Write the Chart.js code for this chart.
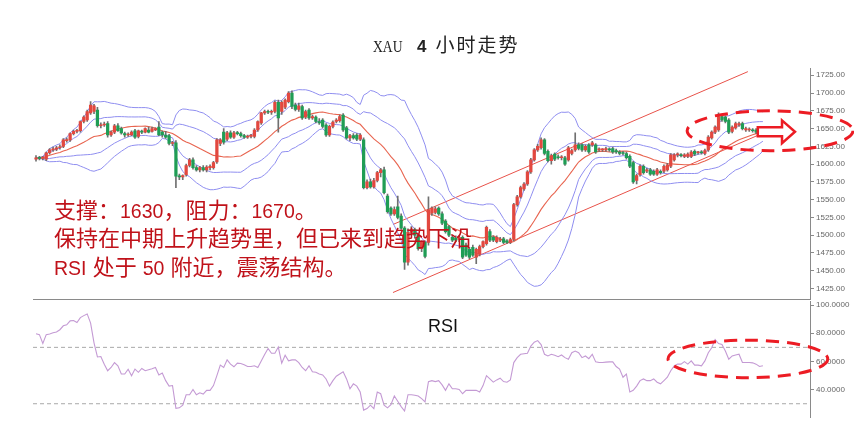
<!DOCTYPE html>
<html>
<head>
<meta charset="utf-8">
<script src="https://cdn.jsdelivr.net/npm/chart.js@4.4.0/dist/chart.umd.min.js"></script>
<style>
  html, body { margin: 0; padding: 0; background: #fff; }
  body { width: 854px; height: 427px; position: relative; overflow: hidden; }
  canvas { position: absolute; left: 0; }
  #priceChart { top: 0; }
  #rsiChart { top: 295px; }
  #title { position: absolute; left: 373px; top: 34px; white-space: nowrap; color: #222; line-height: 20px; }
  #title .lat { display: inline-block; font-family: "Liberation Serif", serif; font-size: 17px;
                transform: scaleX(0.8); transform-origin: left center; width: 30px; }
  #title .num { font-family: "Liberation Sans", sans-serif; font-weight: bold; font-size: 17px; margin-left: 14px; }
  #title .cjk { font-family: "Noto Sans CJK SC", sans-serif; font-size: 19px; margin-left: 9px; letter-spacing: 2px; }
  #note { position: absolute; left: 54px; top: 197px; white-space: nowrap; color: #c0121a;
          font-family: "Liberation Sans", "Noto Sans CJK SC", sans-serif; font-size: 22px; line-height: 28.3px; }
  #note .n { font-size: 19.5px; }
  #rsiLabel { position: absolute; left: 428px; top: 317px; font-family: "Liberation Sans", sans-serif;
              font-size: 18px; line-height: 18px; color: #111; }
</style>
</head>
<body>
<canvas id="priceChart" width="854" height="306"></canvas>
<canvas id="rsiChart" width="854" height="132"></canvas>
<div id="title"><span class="lat">XAU</span><span class="num">4</span><span class="cjk">小时走势</span></div>
<div id="note">
  <div>支撑：<span class="n">1630</span>，阻力：<span class="n">1670</span>。</div>
  <div>保持在中期上升趋势里，但已来到趋势下沿</div>
  <div><span class="n">RSI</span> 处于 <span class="n">50</span> 附近，震荡结构。</div>
</div>
<div id="rsiLabel">RSI</div>
<script>
// XAU 4H candles (index = candle number)
const opens = [
  1607,1609,1608,1607,1616,1620,1621,1623,1625,1633,
  1634,1643,1646,1647,1660,1662,1672,1674,1676,1654,
  1655,1657,1641,1645,1654,1650,1643,1641,1641,1647,
  1639,1646,1645,1648,1646,1648,1652,1645,1641,1640,
  1629,1630,1583,1582,1585,1598,1606,1595,1592,1595,
  1592,1595,1595,1603,1629,1645,1635,1644,1638,1644,
  1643,1640,1638,1639,1639,1648,1658,1672,1674,1673,
  1674,1687,1674,1680,1688,1700,1683,1677,1681,1666,
  1676,1665,1666,1660,1662,1655,1641,1653,1660,1661,
  1669,1651,1637,1640,1641,1635,1634,1567,1575,1568,
  1577,1588,1592,1555,1538,1530,1540,1527,1510,1462,
  1504,1508,1500,1481,1490,1490,1531,1532,1538,1530,
  1520,1512,1497,1496,1494,1497,1486,1480,1483,1469,
  1473,1484,1488,1505,1497,1491,1493,1495,1492,1490,
  1494,1543,1554,1565,1572,1589,1606,1620,1623,1634,
  1618,1605,1614,1610,1609,1609,1606,1615,1620,1627,
  1627,1620,1627,1627,1627,1620,1620,1620,1621,1622,
  1619,1617,1616,1615,1611,1602,1577,1585,1597,1590,
  1592,1590,1586,1590,1590,1592,1597,1606,1613,1613,
  1611,1611,1611,1618,1616,1617,1615,1620,1637,1645,
  1648,1667,1666,1662,1646,1651,1655,1657,1648,1648,
  1648,1648,1646,1646
];
const highs = [
  1612,1611,1611,1617,1622,1624,1625,1627,1636,1637,
  1644,1648,1649,1661,1668,1676,1688,1684,1680,1658,
  1659,1660,1647,1656,1657,1652,1645,1644,1647,1649,
  1648,1648,1651,1652,1652,1651,1660,1647,1646,1642,
  1632,1633,1586,1585,1600,1608,1609,1598,1597,1598,
  1598,1599,1604,1636,1636,1650,1646,1647,1646,1646,
  1645,1642,1641,1642,1650,1661,1673,1676,1676,1676,
  1689,1690,1689,1692,1702,1703,1686,1686,1683,1676,
  1678,1669,1668,1664,1664,1657,1655,1661,1664,1669,
  1671,1653,1642,1643,1643,1643,1637,1578,1579,1580,
  1590,1594,1596,1558,1540,1540,1555,1530,1512,1509,
  1512,1510,1502,1492,1492,1554,1540,1540,1540,1533,
  1522,1514,1500,1499,1499,1499,1489,1483,1486,1482,
  1486,1492,1513,1508,1499,1499,1497,1497,1494,1496,
  1545,1556,1569,1574,1591,1608,1622,1628,1637,1636,
  1620,1614,1616,1613,1612,1611,1625,1621,1644,1630,
  1629,1627,1629,1632,1629,1623,1622,1624,1623,1624,
  1621,1619,1618,1617,1613,1604,1586,1599,1599,1594,
  1594,1592,1594,1592,1599,1601,1615,1615,1616,1615,
  1615,1616,1619,1620,1618,1619,1621,1640,1647,1654,
  1672,1670,1668,1664,1654,1659,1659,1659,1652,1651,
  1650,1650,1649,1649
];
const lows = [
  1604,1606,1606,1605,1614,1618,1619,1621,1623,1631,
  1632,1641,1644,1645,1658,1660,1670,1671,1652,1651,
  1653,1638,1639,1643,1646,1642,1638,1639,1640,1636,
  1637,1643,1644,1644,1645,1647,1640,1638,1636,1627,
  1626,1567,1578,1578,1583,1596,1593,1590,1589,1590,
  1589,1592,1593,1601,1626,1628,1633,1636,1636,1641,
  1638,1636,1636,1637,1637,1646,1656,1670,1671,1670,
  1672,1645,1670,1678,1686,1678,1675,1674,1663,1664,
  1663,1663,1658,1656,1651,1639,1639,1651,1658,1659,
  1646,1635,1633,1635,1633,1633,1565,1565,1566,1566,
  1575,1582,1558,1531,1528,1528,1523,1508,1452,1458,
  1500,1496,1479,1477,1468,1486,1528,1530,1528,1515,
  1503,1498,1491,1491,1491,1467,1470,1467,1470,1460,
  1471,1482,1486,1491,1491,1489,1491,1488,1488,1488,
  1492,1541,1552,1563,1570,1587,1604,1618,1621,1613,
  1603,1600,1605,1607,1606,1598,1604,1613,1618,1620,
  1618,1618,1615,1625,1615,1618,1618,1618,1618,1615,
  1615,1613,1613,1607,1595,1573,1572,1583,1586,1588,
  1584,1584,1584,1586,1588,1590,1595,1604,1610,1610,
  1609,1609,1609,1612,1614,1614,1613,1618,1635,1643,
  1646,1660,1658,1643,1644,1649,1653,1648,1646,1646,
  1645,1643,1644,1644
];
const closes = [
  1609,1608,1610,1616,1620,1621,1623,1624,1634,1634,
  1643,1646,1646,1660,1666,1674,1683,1682,1654,1655,
  1656,1641,1645,1654,1647,1644,1641,1642,1645,1638,
  1647,1645,1650,1645,1650,1650,1641,1641,1638,1629,
  1630,1583,1582,1584,1598,1606,1595,1592,1595,1592,
  1596,1597,1602,1634,1634,1631,1644,1638,1644,1643,
  1640,1638,1639,1641,1648,1660,1672,1674,1673,1674,
  1687,1665,1687,1690,1700,1681,1677,1682,1665,1674,
  1665,1667,1660,1658,1653,1641,1653,1659,1662,1667,
  1648,1637,1640,1637,1635,1641,1567,1575,1568,1577,
  1588,1592,1560,1533,1530,1536,1525,1510,1462,1504,
  1508,1500,1481,1490,1470,1536,1538,1537,1530,1517,
  1505,1500,1493,1493,1497,1469,1472,1469,1472,1480,
  1484,1491,1511,1493,1493,1497,1494,1490,1490,1494,
  1543,1554,1567,1572,1589,1606,1620,1625,1634,1615,
  1605,1612,1607,1609,1610,1600,1623,1619,1627,1622,
  1620,1625,1617,1630,1617,1621,1620,1622,1620,1617,
  1617,1615,1615,1609,1597,1575,1584,1597,1588,1592,
  1586,1586,1592,1588,1597,1599,1613,1613,1613,1612,
  1613,1614,1617,1614,1617,1616,1619,1638,1645,1652,
  1667,1662,1660,1645,1652,1657,1657,1650,1650,1648,
  1647,1645,1646,1647
];
const rsiValues = [
  79.7,79.0,72.7,79.0,79.5,80.3,80.9,82.5,85.3,86.0,
  88.8,89.0,87.6,91.1,92.5,93.7,87.2,73.2,63.2,63.5,
  58.0,53.4,55.7,59.2,56.9,51.1,51.1,54.5,49.9,54.6,
  52.3,55.0,53.4,54.1,54.8,55.7,50.4,51.8,46.4,42.5,
  42.9,26.7,27.1,29.0,36.4,36.4,40.1,36.4,37.8,36.9,
  39.5,39.5,42.9,49.9,57.4,55.7,61.1,58.1,56.2,58.8,
  58.5,57.6,56.4,56.4,56.9,55.7,60.4,65.0,69.2,65.8,
  65.8,70.2,58.8,64.4,60.4,61.1,61.1,59.2,55.7,53.4,
  56.9,52.7,52.3,51.1,50.4,47.6,42.5,46.4,49.5,51.1,
  52.7,47.6,40.6,44.1,42.5,38.3,25.5,26.6,29.0,26.6,
  38.3,37.1,29.0,27.1,29.4,35.5,31.8,28.0,24.8,36.4,
  36.4,36.0,35.5,33.6,31.3,45.7,46.4,45.7,46.4,43.4,
  39.5,44.1,40.6,40.6,40.1,37.1,39.5,39.5,39.5,39.5,
  38.3,42.9,49.9,47.6,45.3,46.9,48.1,45.7,45.3,46.9,
  59.2,62.7,65.1,65.5,65.8,70.9,73.7,74.8,72.0,65.1,
  63.9,65.1,64.4,63.4,64.6,62.7,61.6,66.2,67.4,66.2,
  62.7,63.9,62.0,65.1,59.7,59.2,59.2,59.5,59.7,59.7,
  56.4,54.6,48.8,51.1,38.3,39.5,42.5,46.4,47.6,46.4,
  46.4,47.6,45.3,44.1,46.4,48.8,53.4,56.9,58.1,58.1,
  59.9,58.1,60.4,57.4,57.4,56.9,60.4,66.2,69.7,75.5,
  72.7,72.0,67.4,61.6,63.9,64.6,65.1,59.2,59.2,59.2,
  59.0,58.1,56.4,56.9
];

// axis ticks
const priceTicks = [1425,1450,1475,1500,1525,1550,1575,1600,1625,1650,1675,1700,1725];
const rsiTicks = [40,60,80,100];
const rsiLevels = [30,70];

// channel drawn on the chart: [candle index, price]
const upperTrend = [[104.6,1515.1],[208.6,1730.1]];
const lowerTrend = [[104.6,1419.4],[214.5,1646.6]];

// hand-drawn marks: centre + radius in data units
const priceEllipse = { x: 215.1, y: 1646.9, rx: 24.3, ry: 28 };
const rsiEllipse = { x: 208.6, y: 61.8, rx: 23.4, ry: 13.3 };
const arrowMark = { tail: 211.5, neck: 218.6, tip: 222.4, y: 1645.5, shaft: 6.3, head: 16 };

const bandPeriod = 20;
const X_MIN = -0.88, X_MAX = 226.8;

const UP = "#e2483f", DOWN = "#1f9d55";
const BAND = "#8f8ef0", MID = "#e8644f", TREND = "#e8524a";

// Bollinger-type bands from the closes (mid +-1 and +-2 deviations)
function movingStats(values, period) {
  const mid = [], dev = [];
  values.forEach((_, i) => {
    const win = values.slice(Math.max(0, i - period + 1), i + 1);
    const m = win.reduce((a, b) => a + b, 0) / win.length;
    const v = win.reduce((a, b) => a + (b - m) * (b - m), 0) / win.length;
    mid.push(m);
    dev.push(Math.sqrt(v));
  });
  return { mid, dev };
}
const stats = movingStats(closes, bandPeriod);
const band = k => stats.mid.map((m, i) => ({ x: i, y: m + k * stats.dev[i] }));

const candleColor = closes.map((c, i) => (c >= opens[i] ? UP : DOWN));
const bodies = closes.map((c, i) => ({ x: i, y: [opens[i], c] }));
const wicks = closes.map((c, i) => ({ x: i, y: [lows[i], highs[i]] }));
const rsiPoints = rsiValues.map((v, i) => ({ x: i, y: v }));

function lineSet(data, color, extra) {
  return Object.assign({
    type: "line", data, borderColor: color, borderWidth: 1,
    pointRadius: 0, fill: false, tension: 0
  }, extra || {});
}

// ellipses / arrow drawn in data space
const marksPlugin = {
  id: "marks",
  afterDraw(chart, args, opts) {
    const { ctx, scales: { x, y } } = chart;
    (opts.ellipses || []).forEach(e => {
      const cx = x.getPixelForValue(e.x), cy = y.getPixelForValue(e.y);
      const rx = Math.abs(x.getPixelForValue(e.x + e.rx) - cx);
      const ry = Math.abs(y.getPixelForValue(e.y + e.ry) - cy);
      ctx.save();
      ctx.strokeStyle = "#ec1c24";
      ctx.lineWidth = 3;
      ctx.setLineDash([13, 8]);
      ctx.beginPath();
      ctx.ellipse(cx, cy, rx, ry, 0, 0, Math.PI * 2);
      ctx.stroke();
      ctx.restore();
    });
    const a = opts.arrow;
    if (a) {
      const px = v => x.getPixelForValue(v), py = v => y.getPixelForValue(v);
      ctx.save();
      ctx.beginPath();
      ctx.moveTo(px(a.tail), py(a.y + a.shaft));
      ctx.lineTo(px(a.neck), py(a.y + a.shaft));
      ctx.lineTo(px(a.neck), py(a.y + a.head));
      ctx.lineTo(px(a.tip), py(a.y));
      ctx.lineTo(px(a.neck), py(a.y - a.head));
      ctx.lineTo(px(a.neck), py(a.y - a.shaft));
      ctx.lineTo(px(a.tail), py(a.y - a.shaft));
      ctx.closePath();
      ctx.fillStyle = "#fff";
      ctx.fill();
      ctx.strokeStyle = "#ec1c24";
      ctx.lineWidth = 2.5;
      ctx.lineJoin = "miter";
      ctx.stroke();
      ctx.restore();
    }
  }
};

const tickFont = { family: "'Liberation Sans', Arial, sans-serif", size: 8 };
const axisGray = "#8a8a8a";

function rightAxis(min, max, ticks, digits) {
  return {
    position: "right", min, max,
    afterBuildTicks: s => { s.ticks = ticks.map(v => ({ value: v })); },
    afterFit: s => { s.width = 44; },
    ticks: { callback: v => Number(v).toFixed(digits), font: tickFont, color: "#666", padding: 2 },
    grid: { drawOnChartArea: false, drawTicks: true, tickLength: 4, color: axisGray },
    border: { display: true, color: axisGray }
  };
}

new Chart(document.getElementById("priceChart"), {
  type: "bar",
  data: {
    datasets: [
      { type: "bar", data: bodies, backgroundColor: candleColor, borderWidth: 0,
        barThickness: 2.6, minBarLength: 1, grouped: false },
      { type: "bar", data: wicks, backgroundColor: "#707070", borderWidth: 0,
        barThickness: 1, grouped: false },
      lineSet(stats.mid.map((m, i) => ({ x: i, y: m })), MID, { borderWidth: 1.1 }),
      lineSet(band(1), BAND),
      lineSet(band(-1), BAND),
      lineSet(band(2), BAND),
      lineSet(band(-2), BAND),
      lineSet(upperTrend.map(p => ({ x: p[0], y: p[1] })), TREND),
      lineSet(lowerTrend.map(p => ({ x: p[0], y: p[1] })), TREND)
    ]
  },
  options: {
    responsive: false,
    animation: false,
    devicePixelRatio: 1,
    layout: { padding: { left: 33, top: 68, right: 0, bottom: 6 } },
    plugins: {
      legend: { display: false },
      tooltip: { enabled: false },
      marks: { ellipses: [priceEllipse], arrow: arrowMark }
    },
    scales: {
      x: {
        type: "linear", min: X_MIN, max: X_MAX, offset: false,
        grid: { display: false, drawTicks: false },
        ticks: { display: false },
        border: { display: true, color: axisGray }
      },
      y: rightAxis(1410, 1735.2, priceTicks, 2)
    }
  },
  plugins: [marksPlugin]
});

new Chart(document.getElementById("rsiChart"), {
  type: "line",
  data: {
    datasets: [
      lineSet(rsiPoints, "#c49ad4", { borderWidth: 1.1 }),
      ...rsiLevels.map(v => lineSet([{ x: X_MIN, y: v }, { x: X_MAX, y: v }], "#a8a8a8", { borderDash: [4, 3] }))
    ]
  },
  options: {
    responsive: false,
    animation: false,
    devicePixelRatio: 1,
    layout: { padding: { left: 33, top: 5, right: 0, bottom: 10 } },
    plugins: {
      legend: { display: false },
      tooltip: { enabled: false },
      marks: { ellipses: [rsiEllipse] }
    },
    scales: {
      x: { type: "linear", min: X_MIN, max: X_MAX, display: false },
      y: rightAxis(20.6, 102.3, rsiTicks, 4)
    }
  },
  plugins: [marksPlugin]
});
</script>
</body>
</html>
